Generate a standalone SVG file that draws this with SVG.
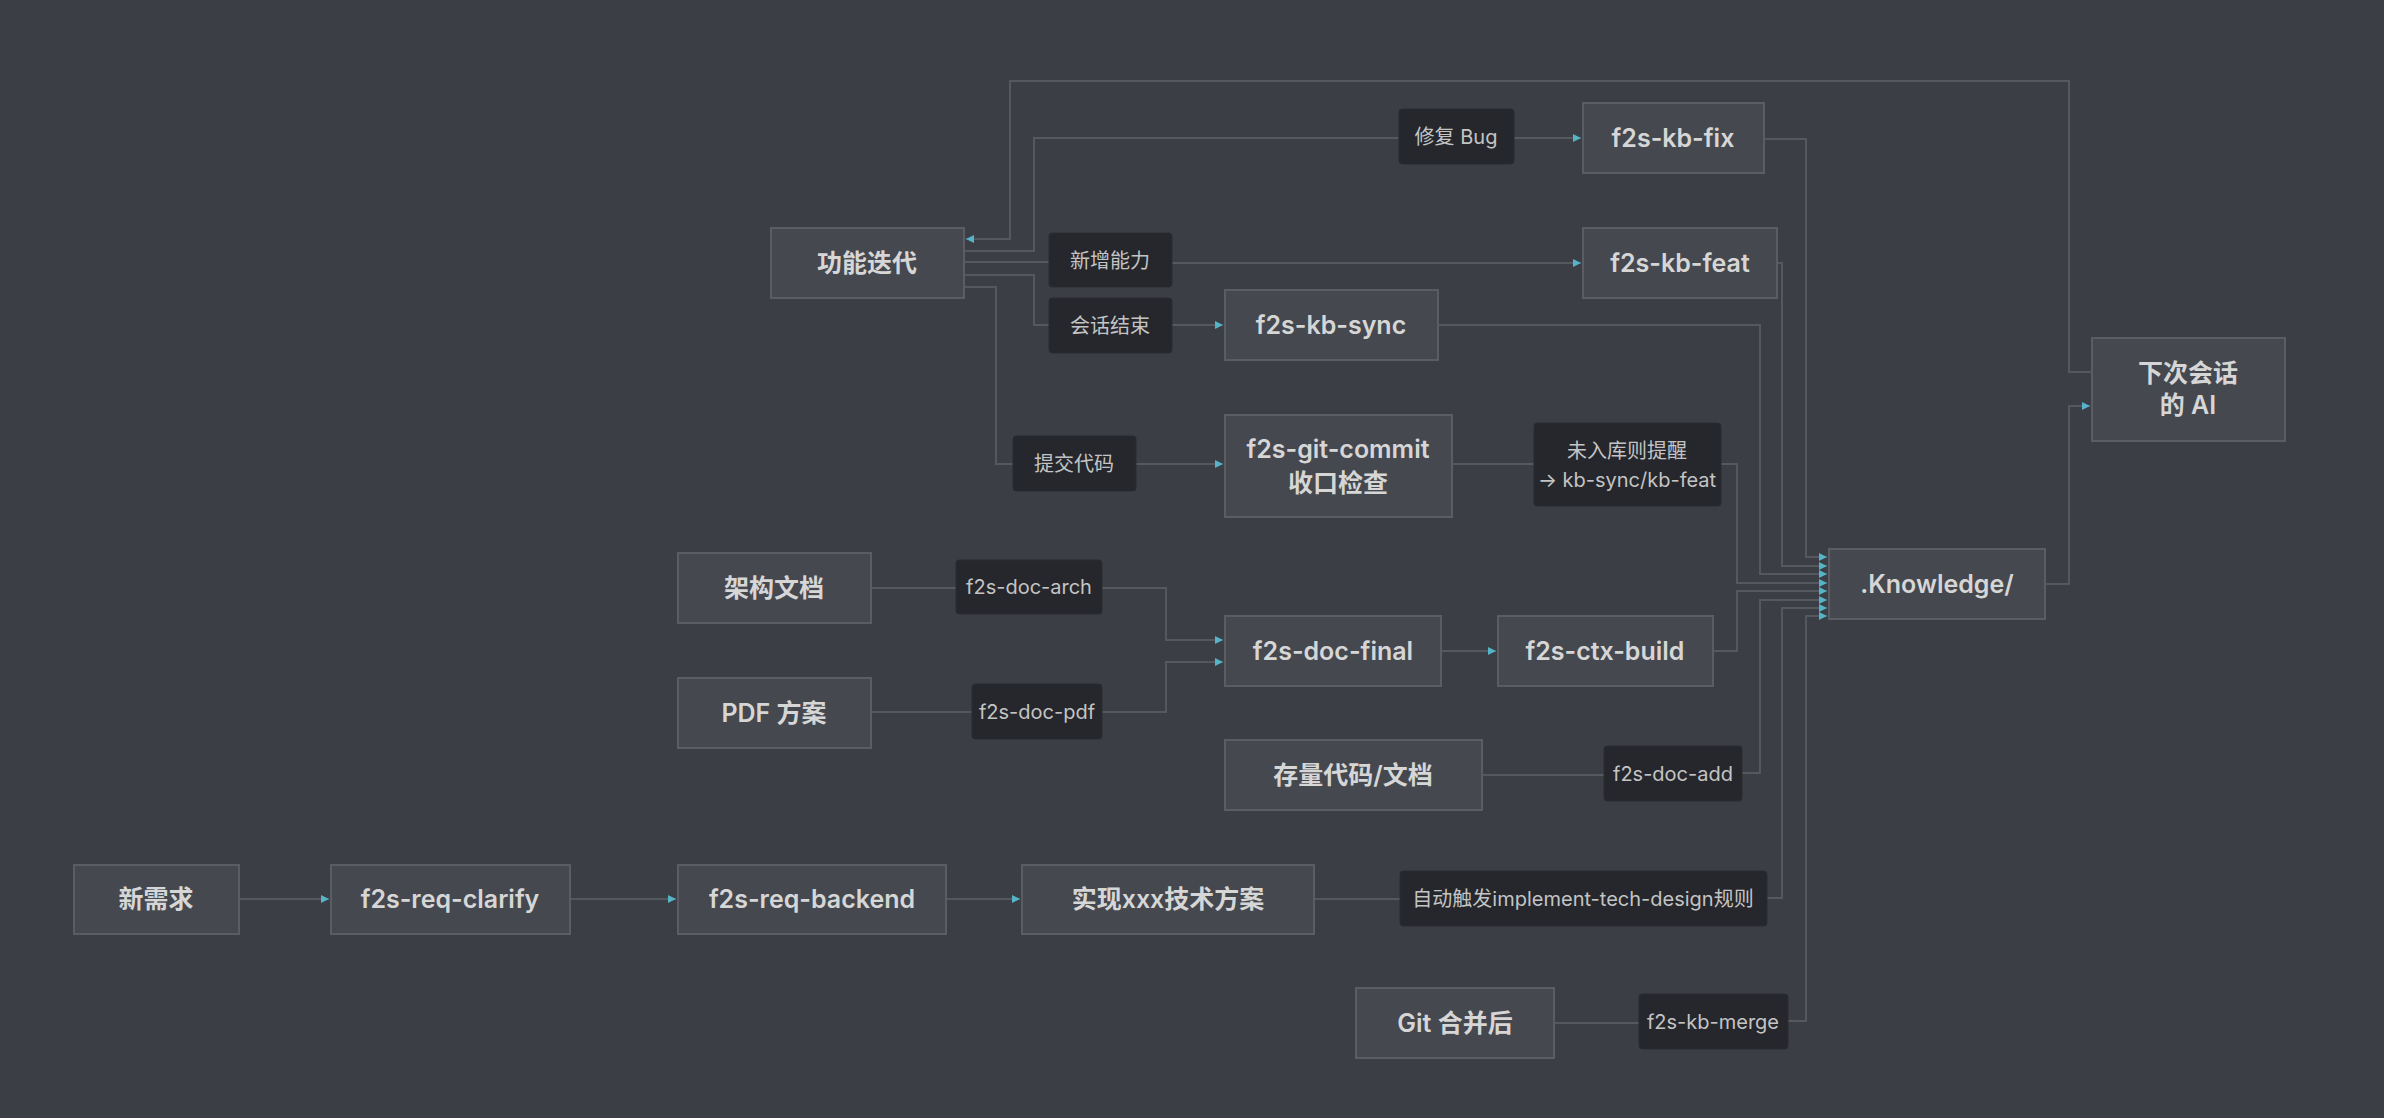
<svg xmlns="http://www.w3.org/2000/svg" width="2384" height="1118" viewBox="0 0 2384 1118">
<style>
.n rect{fill:#45484f;stroke:#5a5d63;stroke-width:2}
.l rect{fill:#25272c;stroke:#2a2c31;stroke-width:1}
.n text{fill:#d6d6d6;font:600 25px "Inter","Noto Sans CJK SC",sans-serif;text-anchor:middle}
.l text{fill:#c4c4c4;font:400 20px "Inter","Noto Sans CJK SC",sans-serif;text-anchor:middle}
.c path{fill:none;stroke:#55585e;stroke-width:2}
</style>
<defs>
<marker id="a" viewBox="0 0 10 10" refX="10" refY="5" markerWidth="8" markerHeight="8" markerUnits="userSpaceOnUse" orient="auto"><path d="M0,0L10,5L0,10z" fill="#56b4c8"/></marker>
</defs>
<rect width="2384" height="1118" fill="#3b3e45"/>
<g class="c">
<path d="M2092,372H2069V81H1010V239H966" marker-end="url(#a)"/>
<path d="M964,251H1034V138H1399"/>
<path d="M1514,138H1581" marker-end="url(#a)"/>
<path d="M964,262H1049"/>
<path d="M1172,263H1581" marker-end="url(#a)"/>
<path d="M964,275H1034V325H1049"/>
<path d="M1172,325H1223" marker-end="url(#a)"/>
<path d="M964,287H996V464H1013"/>
<path d="M1136,464H1223" marker-end="url(#a)"/>
<path d="M1452,464H1534"/>
<path d="M871,588H956"/>
<path d="M1102,588H1166V640H1223" marker-end="url(#a)"/>
<path d="M871,712H972"/>
<path d="M1102,712H1166V662H1223" marker-end="url(#a)"/>
<path d="M1441,651H1496" marker-end="url(#a)"/>
<path d="M1482,775H1604"/>
<path d="M1554,1023H1639"/>
<path d="M1314,899H1400"/>
<path d="M239,899H329" marker-end="url(#a)"/>
<path d="M570,899H676" marker-end="url(#a)"/>
<path d="M946,899H1020" marker-end="url(#a)"/>
<path d="M1764,139H1806V557H1827" marker-end="url(#a)"/>
<path d="M1777,263H1782V566H1827" marker-end="url(#a)"/>
<path d="M1438,325H1760V574H1827" marker-end="url(#a)"/>
<path d="M1721,464H1737V583H1827" marker-end="url(#a)"/>
<path d="M1713,651H1737V591H1827" marker-end="url(#a)"/>
<path d="M1742,773H1760V600H1827" marker-end="url(#a)"/>
<path d="M1767,898H1782V608H1827" marker-end="url(#a)"/>
<path d="M1788,1021H1806V616H1827" marker-end="url(#a)"/>
<path d="M2045,584H2069V406H2090" marker-end="url(#a)"/>
</g>
<g id="n1" class="n"><rect x="771" y="228" width="193" height="70"/><text x="867" y="272">功能迭代</text></g>
<g id="l1" class="l"><rect x="1399" y="109" width="115" height="55" rx="3"/><text x="1456" y="144">修复 Bug</text></g>
<g id="n2" class="n"><rect x="1583" y="103" width="181" height="70"/><text x="1673" y="147">f2s-kb-fix</text></g>
<g id="l2" class="l"><rect x="1049" y="233" width="123" height="54" rx="3"/><text x="1110" y="268">新增能力</text></g>
<g id="n3" class="n"><rect x="1583" y="228" width="194" height="70"/><text x="1680" y="272">f2s-kb-feat</text></g>
<g id="l3" class="l"><rect x="1049" y="298" width="123" height="55" rx="3"/><text x="1110" y="333">会话结束</text></g>
<g id="n4" class="n"><rect x="1225" y="290" width="213" height="70"/><text x="1331" y="334">f2s-kb-sync</text></g>
<g id="l4" class="l"><rect x="1013" y="436" width="123" height="55" rx="3"/><text x="1074" y="471">提交代码</text></g>
<g id="n5" class="n"><rect x="1225" y="415" width="227" height="102"/><text x="1338" y="458">f2s-git-commit</text><text x="1338" y="492">收口检查</text></g>
<g id="l5" class="l"><rect x="1534" y="423" width="187" height="83" rx="3"/><text x="1627" y="458">未入库则提醒</text><text x="1627" y="487">→ kb-sync/kb-feat</text></g>
<g id="n6" class="n"><rect x="2092" y="338" width="193" height="103"/><text x="2188" y="382">下次会话</text><text x="2188" y="414">的 AI</text></g>
<g id="n7" class="n"><rect x="1829" y="549" width="216" height="70"/><text x="1937" y="593">.Knowledge/</text></g>
<g id="n8" class="n"><rect x="678" y="553" width="193" height="70"/><text x="774" y="597">架构文档</text></g>
<g id="l6" class="l"><rect x="956" y="560" width="146" height="54" rx="3"/><text x="1029" y="594">f2s-doc-arch</text></g>
<g id="n9" class="n"><rect x="678" y="678" width="193" height="70"/><text x="774" y="722">PDF 方案</text></g>
<g id="l7" class="l"><rect x="972" y="684" width="130" height="55" rx="3"/><text x="1037" y="719">f2s-doc-pdf</text></g>
<g id="n10" class="n"><rect x="1225" y="616" width="216" height="70"/><text x="1333" y="660">f2s-doc-final</text></g>
<g id="n11" class="n"><rect x="1498" y="616" width="215" height="70"/><text x="1605" y="660">f2s-ctx-build</text></g>
<g id="n12" class="n"><rect x="1225" y="740" width="257" height="70"/><text x="1353" y="784">存量代码/文档</text></g>
<g id="l8" class="l"><rect x="1604" y="746" width="138" height="55" rx="3"/><text x="1673" y="781">f2s-doc-add</text></g>
<g id="n13" class="n"><rect x="74" y="865" width="165" height="69"/><text x="156" y="908">新需求</text></g>
<g id="n14" class="n"><rect x="331" y="865" width="239" height="69"/><text x="450" y="908">f2s-req-clarify</text></g>
<g id="n15" class="n"><rect x="678" y="865" width="268" height="69"/><text x="812" y="908">f2s-req-backend</text></g>
<g id="n16" class="n"><rect x="1022" y="865" width="292" height="69"/><text x="1168" y="908">实现xxx技术方案</text></g>
<g id="l9" class="l"><rect x="1400" y="871" width="367" height="55" rx="3"/><text x="1583" y="906">自动触发implement-tech-design规则</text></g>
<g id="n17" class="n"><rect x="1356" y="988" width="198" height="70"/><text x="1455" y="1032">Git 合并后</text></g>
<g id="l10" class="l"><rect x="1639" y="994" width="149" height="55" rx="3"/><text x="1713" y="1029">f2s-kb-merge</text></g>
</svg>
